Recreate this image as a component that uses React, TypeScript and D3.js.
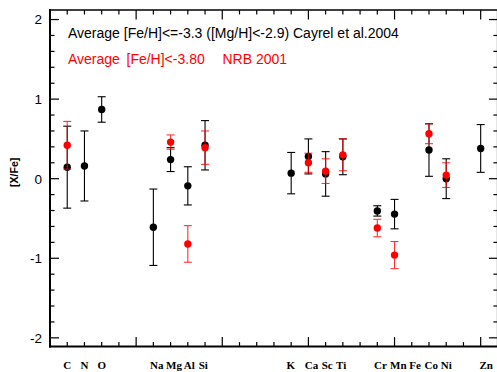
import React from "react";
import * as d3 from "d3";

const elements = ["C", "N", "O", "Na", "Mg", "Al", "Si", "K", "Ca", "Sc", "Ti", "Cr", "Mn", "Fe", "Co", "Ni", "Zn"];
const labelPos = [6, 7, 8, 11.2, 12.2, 13.08, 13.9, 18.97, 20.18, 21.09, 21.9, 24.18, 25.22, 26.19, 27.13, 28.0, 30.32];

const cayrelZ = [6, 7, 8, 11, 12, 13, 14, 19, 20, 21, 22, 24, 25, 27, 28, 30];
const cayrelVal = [0.145, 0.16, 0.87, -0.61, 0.24, -0.09, 0.42, 0.07, 0.28, 0.06, 0.275, -0.405, -0.445, 0.36, 0.0, 0.38];
const cayrelErr = [0.515, 0.44, 0.16, 0.48, 0.15, 0.24, 0.31, 0.26, 0.22, 0.28, 0.225, 0.065, 0.185, 0.33, 0.25, 0.3];

const nrbZ = [6, 12, 13, 14, 20, 21, 22, 24, 25, 27, 28];
const nrbVal = [0.42, 0.46, -0.82, 0.39, 0.2, 0.095, 0.3, -0.62, -0.96, 0.565, 0.045];
const nrbErr = [0.3, 0.09, 0.23, 0.21, 0.12, 0.155, 0.2, 0.11, 0.17, 0.125, 0.155];

const yTickLabels = [2, 1, 0, -1, -2];

const W = 497, H = 372;
const x = d3.scaleLinear().domain([5, 31]).range([50, 497.9]);
const y = d3.scaleLinear().domain([-2.11, 2.12]).range([346.6, 10]);

const sans = "'Liberation Sans', Arial, Helvetica, sans-serif";
const serif = "'Liberation Serif', 'Times New Roman', serif";

function Series({ zs, vals, errs, color, barOpacity }: { zs: number[]; vals: number[]; errs: number[]; color: string; barOpacity: number }) {
  return (
    <g>
      <g stroke={color} strokeWidth={1.1} opacity={barOpacity}>
        {zs.map((z, i) => {
          const cx = x(z);
          const t = y(vals[i] + errs[i]);
          const b = y(vals[i] - errs[i]);
          return (
            <g key={i}>
              <line x1={cx} x2={cx} y1={t} y2={b} />
              <line x1={cx - 4} x2={cx + 4} y1={t} y2={t} />
              <line x1={cx - 4} x2={cx + 4} y1={b} y2={b} />
            </g>
          );
        })}
      </g>
      {zs.map((z, i) => (
        <circle key={i} cx={x(z)} cy={y(vals[i])} r={3.7} fill={color} />
      ))}
    </g>
  );
}

export default function App() {
  const [x0, x1] = x.range();
  const [y0, y1] = y.range();
  const xTicks = d3.range(5, 32, 1);
  const yTicks = d3.range(-20, 21, 2).map((v) => v / 10);
  return (
    <svg width={W} height={H} style={{ position: "absolute", left: 0, top: 0, background: "#fff" }}>
      <rect x={0} y={0} width={W} height={H} fill="#fff" />
      {/* ticks */}
      <g stroke="#000" strokeWidth={1.2}>
        {xTicks.map((t) => {
          const major = t % 5 === 0;
          const len = major ? 9.5 : 4.5;
          return (
            <g key={t}>
              <line x1={x(t)} x2={x(t)} y1={y0} y2={y0 - len} />
              <line x1={x(t)} x2={x(t)} y1={y1} y2={y1 + len} />
            </g>
          );
        })}
        {yTicks.map((t) => {
          const major = Math.abs(t - Math.round(t)) < 1e-6;
          const len = major ? 9 : 4.5;
          return (
            <g key={t}>
              <line x1={x0} x2={x0 + len} y1={y(t)} y2={y(t)} />
              <line x1={x1} x2={x1 - len} y1={y(t)} y2={y(t)} />
            </g>
          );
        })}
      </g>
      {/* axes frame */}
      <g stroke="#000" strokeWidth={2}>
        <line x1={x0} x2={x0} y1={y1 - 1} y2={y0 + 1} />
        <line x1={x0 - 1} x2={x1} y1={y0} y2={y0} />
        <line x1={x0 - 1} x2={x1} y1={y1} y2={y1} strokeWidth={1.6} />
        <line x1={x1} x2={x1} y1={y1} y2={y0} />
      </g>
      {/* y tick labels */}
      {yTickLabels.map((v) => (
        <text key={v} x={42} y={y(v)} dy="0.36em" textAnchor="end" fontFamily={sans} fontSize={13.5} fill="#000">
          {v}
        </text>
      ))}
      {/* y axis title */}
      <text
        transform={`translate(14,${y(0.08)}) rotate(-90)`}
        textAnchor="middle"
        dominantBaseline="central"
        fontFamily={sans}
        fontWeight="bold"
        fontSize={10.5}
        fill="#000"
      >
        [X/Fe]
      </text>
      {/* element labels */}
      {elements.map((el, i) => (
        <text key={el} x={x(labelPos[i])} y={369} textAnchor="middle" fontFamily={serif} fontWeight="bold" fontSize={11} fill="#000">
          {el}
        </text>
      ))}
      {/* legend */}
      <text x={68} y={37.5} fontFamily={sans} fontSize={14} fill="#000">
        Average [Fe/H]&lt;=-3.3 ([Mg/H]&lt;-2.9) Cayrel et al.2004
      </text>
      <g fontFamily={sans} fontSize={14} fill="#ff0000">
        <text x={68} y={64}>Average</text>
        <text x={126.5} y={64}>[Fe/H]&lt;-3.80</text>
        <text x={222.5} y={64}>NRB 2001</text>
      </g>
      <Series zs={cayrelZ} vals={cayrelVal} errs={cayrelErr} color="#000" barOpacity={1} />
      <Series zs={nrbZ} vals={nrbVal} errs={nrbErr} color="#ff0000" barOpacity={0.8} />
    </svg>
  );
}
